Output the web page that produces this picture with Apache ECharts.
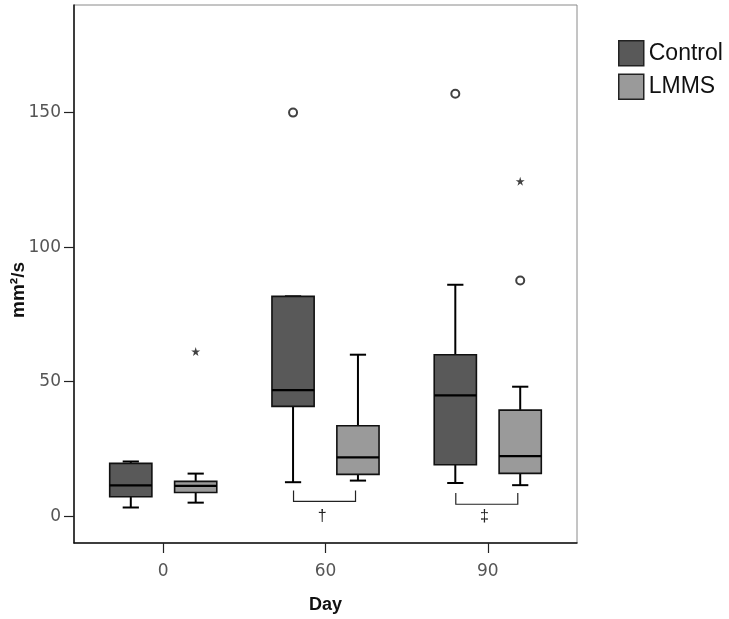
<!DOCTYPE html>
<html>
<head>
<meta charset="utf-8">
<script src="https://cdn.jsdelivr.net/npm/echarts@6/dist/echarts.min.js"></script>
<style>html,body{margin:0;padding:0;background:#fff}#c{width:729px;height:619px}</style>
</head>
<body>
<div id="c"></div>
<script>
// ---- data ----
var days = ['0', '60', '90'];
var yTicks = [0, 50, 100, 150];
// [dayIndex, lowWhisker, Q1, median, Q3, highWhisker]
var controlBoxes = [
  [0, 3.2, 7.2, 11.4, 19.6, 20.3],
  [1, 12.6, 40.8, 46.8, 81.7, 81.7],
  [2, 12.3, 19.1, 44.9, 60.0, 86.0]
];
var lmmsBoxes = [
  [0, 5.0, 8.8, 11.2, 12.9, 15.8],
  [1, 13.2, 15.5, 21.8, 33.6, 60.0],
  [2, 11.5, 15.9, 22.3, 39.4, 48.1]
];
var controlOutliers = [[1, 150.0], [2, 157.0]];
var lmmsOutliers = [[2, 87.6]];
var lmmsExtremes = [[0, 61.2], [2, 124.5]];
// significance brackets: [dayIndex, topValue, lineValue, textValue]
var brackets = [[1, 9.5, 5.5, 0], [2, 8.6, 4.4, 0]];
var bracketSymbols = ['†', '‡'];

// ---- layout helpers ----
var OFF = 0.2, BOXW = 0.26, CAPW = 0.05;
var FONT = '"Liberation Sans", Arial, sans-serif';
var TICKFONT = '"DejaVu Sans", sans-serif';

function boxRenderer(offset) {
  return function (params, api) {
    var x = api.value(0) + offset;
    var lo = api.coord([x, api.value(1)]);
    var q1 = api.coord([x, api.value(2)]);
    var md = api.coord([x, api.value(3)]);
    var q3 = api.coord([x, api.value(4)]);
    var hi = api.coord([x, api.value(5)]);
    var hw = api.size([BOXW, 0])[0] / 2;
    var cw = api.size([CAPW, 0])[0];
    var cx = lo[0];
    var lineStyle = {stroke: '#000', lineWidth: 2, fill: null};
    return {
      type: 'group',
      children: [
        {type: 'line', shape: {x1: cx, y1: q3[1], x2: cx, y2: hi[1]}, style: lineStyle},
        {type: 'line', shape: {x1: cx, y1: q1[1], x2: cx, y2: lo[1]}, style: lineStyle},
        {type: 'line', shape: {x1: cx - cw, y1: hi[1], x2: cx + cw, y2: hi[1]}, style: lineStyle},
        {type: 'line', shape: {x1: cx - cw, y1: lo[1], x2: cx + cw, y2: lo[1]}, style: lineStyle},
        {type: 'rect', shape: {x: cx - hw, y: q3[1], width: 2 * hw, height: q1[1] - q3[1]},
          style: {fill: api.visual('color'), stroke: '#111', lineWidth: 1.6}},
        {type: 'line', shape: {x1: cx - hw, y1: md[1], x2: cx + hw, y2: md[1]}, style: {stroke: '#000', lineWidth: 2.2}}
      ]
    };
  };
}

function bracketRenderer(params, api) {
  var xi = api.value(0);
  var l = xi - OFF + 0.003, r = xi + OFF - 0.015;
  var lt = api.coord([l, api.value(1)]);
  var lb = api.coord([l, api.value(2)]);
  var rb = api.coord([r, api.value(2)]);
  var rt = api.coord([r, api.value(1)]);
  var tp = api.coord([xi - 0.02, api.value(3)]);
  return {
    type: 'group',
    children: [
      {type: 'polyline', shape: {points: [lt, lb, rb, rt]}, style: {stroke: '#222', lineWidth: 1.2, fill: null}},
      {type: 'text', style: {text: bracketSymbols[params.dataIndex], x: tp[0], y: tp[1],
        align: 'center', verticalAlign: 'middle', font: '16px ' + FONT, fill: '#222'}}
    ]
  };
}

function shift(arr, off) { return arr.map(function (d) { return [d[0] + off, d[1]]; }); }

var chart = echarts.init(document.getElementById('c'), null, {renderer: 'canvas'});
chart.setOption({
  animation: false,
  backgroundColor: '#fff',
  textStyle: {fontFamily: FONT},
  grid: {left: 74, top: 5, width: 503, height: 538, show: true, borderColor: '#8a8a8a', borderWidth: 1,
    backgroundColor: '#fff', containLabel: false, outerBoundsMode: 'none'},
  legend: {
    orient: 'vertical', left: 613, top: 35, itemWidth: 25, itemHeight: 25, itemGap: 7,
    icon: 'rect',
    data: ['Control', 'LMMS'],
    textStyle: {fontSize: 23, color: '#111', fontFamily: FONT, padding: [0, 0, 0, 0]},
    itemStyle: {borderColor: '#222', borderWidth: 1.5}
  },
  xAxis: {
    type: 'value', min: -0.55, max: 2.55,
    name: 'Day', nameLocation: 'middle', nameGap: 53, nameMoveOverlap: false,
    nameTextStyle: {fontSize: 18, fontWeight: 'bold', color: '#111', fontFamily: FONT},
    axisLine: {show: true, onZero: false, lineStyle: {color: '#111', width: 1.5}},
    axisTick: {show: true, length: 10, customValues: [0, 1, 2], lineStyle: {color: '#222', width: 1.2}},
    axisLabel: {customValues: [0, 1, 2], fontSize: 17, color: '#555', margin: 20, fontFamily: TICKFONT,
      formatter: function (v) { return days[Math.round(v)]; }},
    splitLine: {show: false}
  },
  yAxis: {
    type: 'value', min: -10, max: 190,
    name: 'mm²/s', nameLocation: 'middle', nameGap: 46, nameRotate: 90, nameMoveOverlap: false,
    nameTextStyle: {fontSize: 19, fontWeight: 'bold', color: '#111', fontFamily: FONT, padding: [0, 32, 0, 0]},
    axisLine: {show: true, onZero: false, lineStyle: {color: '#111', width: 1.5}},
    axisTick: {show: true, length: 10, customValues: yTicks, lineStyle: {color: '#222', width: 1.2}},
    axisLabel: {customValues: yTicks, fontSize: 17, color: '#555', margin: 13, fontFamily: TICKFONT},
    splitLine: {show: false}
  },
  series: [
    {name: 'Control', type: 'custom', renderItem: boxRenderer(-OFF), data: controlBoxes,
      itemStyle: {color: '#595959', borderColor: '#222'}, encode: {x: 0, y: [1, 2, 3, 4, 5]}, z: 3},
    {name: 'LMMS', type: 'custom', renderItem: boxRenderer(OFF), data: lmmsBoxes,
      itemStyle: {color: '#9a9a9a', borderColor: '#222'}, encode: {x: 0, y: [1, 2, 3, 4, 5]}, z: 3},
    {type: 'scatter', data: shift(controlOutliers, -OFF).concat(shift(lmmsOutliers, OFF)),
      symbol: 'circle', symbolSize: 8,
      itemStyle: {color: '#fff', borderColor: '#111', borderWidth: 2}, z: 4},
    {type: 'scatter', data: shift(lmmsExtremes, OFF),
      symbol: 'path://M50,0 L61,35 L98,35 L68,57 L79,91 L50,70 L21,91 L32,57 L2,35 L39,35 Z',
      symbolSize: 9, itemStyle: {color: '#111'}, z: 4},
    {type: 'custom', renderItem: bracketRenderer, data: brackets, encode: {x: 0, y: [1, 2, 3]}, z: 2}
  ]
});
</script>
</body>
</html>
